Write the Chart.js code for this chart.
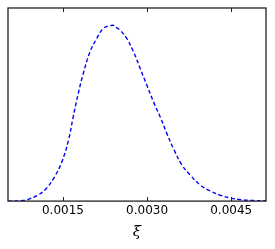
<!DOCTYPE html>
<html>
<head>
<meta charset="utf-8">
<script src="https://cdn.jsdelivr.net/npm/chart.js@4.4.0/dist/chart.umd.min.js"></script>
<style>
  html, body { margin: 0; padding: 0; background: #fff; }
  #wrap { width: 275px; height: 249px; }
</style>
</head>
<body>
<div id="wrap"><canvas id="densityChart"></canvas></div>
<script>
// values (density has no y labels, so units are arbitrary)
const xiValues = [0.00052, 0.0008, 0.0009, 0.00105, 0.0012, 0.00135, 0.00148, 0.0016, 0.00168, 0.00177,
  0.00186, 0.00198, 0.0021, 0.00222, 0.00234, 0.00240, 0.00246, 0.00252, 0.00264, 0.00276, 0.00288,
  0.0030, 0.00312, 0.00324, 0.00336, 0.00348, 0.00362, 0.00377, 0.00395, 0.00413, 0.00431,
  0.00449, 0.00467, 0.0049, 0.00512];
const densityValues = [0, 2, 8, 21, 45, 88, 142, 222, 303, 388,
  461, 540, 589, 626, 636, 637, 628, 619, 589, 540, 479,
  418, 357, 302, 241, 186, 131, 94, 58, 36, 21,
  11, 5, 2, 1];
const xTicks = [0.0015, 0.0030, 0.0045];

const frame = {
  id: 'frame',
  afterDraw(chart) {
    const ctx = chart.ctx;
    const a = chart.chartArea;
    const xs = chart.scales.x;
    ctx.save();
    ctx.strokeStyle = '#222';
    ctx.lineWidth = 1.3;
    ctx.strokeRect(a.left, a.top, a.right - a.left, a.bottom - a.top);
    ctx.lineWidth = 1;
    xTicks.forEach(t => {
      const px = Math.round(xs.getPixelForValue(t)) + 0.5;
      ctx.beginPath();
      ctx.moveTo(px, a.bottom);
      ctx.lineTo(px, a.bottom - 4);
      ctx.moveTo(px, a.top);
      ctx.lineTo(px, a.top + 4);
      ctx.stroke();
    });
    ctx.restore();
  }
};

new Chart(document.getElementById('densityChart'), {
  type: 'line',
  data: {
    datasets: [{
      data: xiValues.map((x, i) => ({ x: x, y: densityValues[i] })),
      borderColor: '#0000ff',
      borderWidth: 1.4,
      borderDash: [4, 2.5],
      pointRadius: 0,
      tension: 0.4,
      fill: false
    }]
  },
  options: {
    responsive: true,
    maintainAspectRatio: false,
    animation: false,
    layout: { padding: { left: 8, right: 9, top: 8, bottom: 0 } },
    plugins: { legend: { display: false }, tooltip: { enabled: false } },
    scales: {
      x: {
        type: 'linear',
        min: 0.00052,
        max: 0.00512,
        afterBuildTicks: scale => { scale.ticks = xTicks.map(v => ({ value: v })); },
        grid: { display: false, drawTicks: false },
        border: { display: false },
        ticks: {
          color: '#000',
          padding: 2.5,
          maxRotation: 0,
          font: { family: 'DejaVu Sans', size: 12 },
          callback: v => v.toFixed(4)
        },
        title: {
          display: true,
          text: 'ξ',
          color: '#000',
          padding: { top: 2.5, bottom: 8 },
          font: { family: 'DejaVu Serif', size: 15, style: 'italic' }
        }
      },
      y: {
        display: false,
        min: 0,
        max: 700
      }
    }
  },
  plugins: [frame]
});
</script>
</body>
</html>
